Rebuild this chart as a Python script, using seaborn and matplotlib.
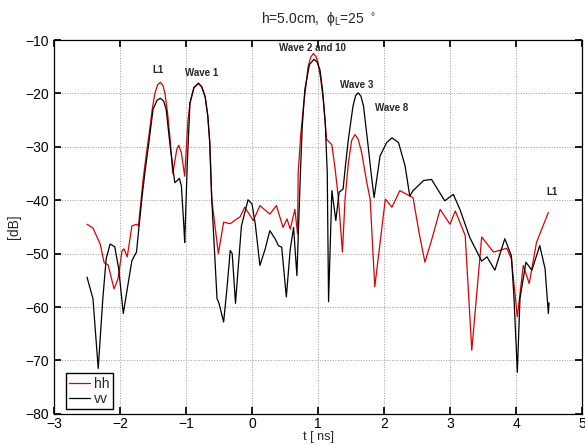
import seaborn as sns
import matplotlib.pyplot as plt
import pandas as pd

# values
hh_t = [-2.50, -2.41, -2.30, -2.24, -2.18, -2.09, -2.03, -1.97, -1.94, -1.89, -1.82, -1.75, -1.72,
        -1.65, -1.60, -1.55, -1.51, -1.47, -1.43, -1.39, -1.35, -1.32, -1.28, -1.24, -1.20, -1.14, -1.11,
        -1.07, -1.02, -0.99, -0.97, -0.94, -0.88, -0.81, -0.76, -0.71, -0.67, -0.64, -0.61, -0.51, -0.43,
        -0.33, -0.23, -0.18, -0.11, 0.02, 0.12, 0.27, 0.37, 0.47, 0.53, 0.58, 0.65, 0.69, 0.70, 0.74,
        0.78, 0.85, 0.89, 0.93, 0.97, 1.00, 1.04, 1.08, 1.13, 1.21, 1.26, 1.31, 1.37, 1.41, 1.46, 1.51,
        1.56, 1.61, 1.66, 1.74, 1.79, 1.86, 2.02, 2.12, 2.24, 2.39, 2.44, 2.53, 2.62, 2.72, 2.85, 3.00,
        3.08, 3.23, 3.33, 3.48, 3.66, 3.86, 3.93, 4.02, 4.11, 4.20, 4.31, 4.49]
hh_db = [-44.5, -45.2, -48.2, -51.7, -52.1, -56.6, -54.7, -49.5, -49.1, -50.6, -44.8, -44.5, -44.8,
         -36.1, -31.3, -26.8, -22.8, -19.9, -18.4, -17.9, -18.5, -19.9, -23.6, -28.6, -35.0, -30.5, -29.7,
         -31.1, -35.5, -29.2, -25.0, -21.8, -18.9, -18.1, -18.8, -20.6, -24.2, -29.2, -39.8, -50.0, -44.1,
         -44.4, -43.5, -43.1, -41.3, -43.8, -41.0, -42.6, -41.0, -45.1, -43.5, -45.4, -41.7, -46.3, -34.8, -27.5,
         -22.4, -15.0, -13.2, -12.5, -13.1, -14.3, -17.2, -21.2, -28.6, -29.6, -34.2, -39.8, -49.7, -39.8, -33.0, -28.8,
         -27.7, -28.6, -31.0, -36.7, -39.8, -56.2, -39.8, -41.3, -38.2, -39.2, -39.5, -46.0, -51.6, -47.5, -41.7, -44.5,
         -42.0, -46.6, -68.1, -46.9, -49.7, -49.0, -51.0, -61.8, -52.2, -55.6, -47.9, -42.3]

vv_t = [-2.50, -2.41, -2.33, -2.26, -2.21, -2.15, -2.08, -2.02, -1.95, -1.89, -1.82, -1.75, -1.67,
        -1.62, -1.57, -1.50, -1.44, -1.39, -1.34, -1.30, -1.24, -1.17, -1.14, -1.10, -1.07, -1.03, -1.02,
        -0.98, -0.94, -0.88, -0.81, -0.76, -0.71, -0.67, -0.64, -0.61, -0.53, -0.50, -0.43, -0.38, -0.33,
        -0.30, -0.25, -0.21, -0.16, -0.06, 0.00, 0.05, 0.12, 0.20, 0.27, 0.35, 0.40, 0.45, 0.52,
        0.58, 0.63, 0.68, 0.73, 0.76, 0.80, 0.87, 0.94, 0.99, 1.03, 1.07, 1.11, 1.14, 1.16, 1.21, 1.27, 1.32,
        1.38, 1.42, 1.46, 1.53, 1.57, 1.61, 1.65, 1.69, 1.72, 1.76, 1.81, 1.85, 1.94, 2.04, 2.12, 2.22, 2.32,
        2.39, 2.44, 2.50, 2.60, 2.72, 2.84, 2.92, 3.05, 3.15, 3.30, 3.48, 3.56, 3.68, 3.83, 3.93,
        3.97, 4.02, 4.06, 4.15, 4.24, 4.36, 4.44, 4.49, 4.50]
vv_db = [-54.4, -58.4, -71.5, -58.4, -51.0, -48.2, -48.7, -52.8, -61.2, -56.6, -51.3, -49.7, -39.8,
         -34.5, -29.9, -23.0, -21.3, -20.9, -21.4, -23.0, -29.9, -36.7, -36.4, -35.9, -37.3, -45.4, -47.9,
         -33.0, -21.8, -18.9, -18.1, -18.8, -20.6, -24.2, -29.2, -39.8, -58.4, -59.3, -62.8, -56.6, -49.4,
         -50.0, -59.3, -52.8, -44.8, -39.9, -40.7, -44.5, -52.2, -49.1, -45.7, -47.2, -48.5, -48.8, -58.1,
         -49.1, -45.1, -54.1, -36.1, -26.5, -19.3, -14.6, -13.6, -14.2, -15.6, -19.5, -25.5, -34.8, -59.0, -38.2, -43.8, -38.5,
         -37.9, -33.0, -28.6, -22.4, -20.4, -19.9, -20.5, -22.4, -25.6, -29.9, -35.5, -39.5, -31.7, -29.2, -28.3, -29.2, -33.6,
         -39.2, -38.2, -37.5, -36.3, -36.1, -38.5, -40.1, -38.9, -41.7, -47.0, -51.4, -50.6, -53.1, -47.2, -50.4,
         -58.4, -72.2, -58.4, -51.6, -53.1, -48.5, -52.8, -61.2, -59.2]

labels = ["L1", "Wave 1", "Wave 2 and 10", "Wave 3", "Wave 8", "L1"]
label_t = [-1.42, -0.77, 0.92, 1.59, 2.12, 4.55]
label_db = [-15.6, -16.1, -11.5, -18.4, -22.7, -38.5]

df = pd.concat([
    pd.DataFrame({"t": hh_t, "dB": hh_db, "pol": "hh"}),
    pd.DataFrame({"t": vv_t, "dB": vv_db, "pol": "vv"}),
])

sns.set_theme(style="ticks")
plt.rcParams['font.family'] = ['Liberation Sans', 'DejaVu Sans']

fig = plt.figure(figsize=(5.85, 4.45), dpi=100)
ax = fig.add_axes([0.0923, 0.07, 0.9026, 0.840])

sns.lineplot(data=df, x="t", y="dB", hue="pol", palette={"hh": "#dd0000", "vv": "black"},
             sort=False, estimator=None, linewidth=0.9, ax=ax)

for txt, x, y in zip(labels, label_t, label_db):
    ax.text(x, y, txt, fontsize=7, fontweight="bold", ha="center", va="center")

ax.set_xlim(-3, 5)
ax.set_ylim(-80, -10)
ax.set_xticks(range(-3, 6))
ax.set_yticks(range(-80, -9, 10))
ax.grid(True, linestyle=":", color="#999999", linewidth=0.7)
ax.tick_params(direction="in", top=True, right=True, length=5, labelsize=10, colors="black")
ax.tick_params(axis="x", pad=2)
for s in ax.spines.values():
    s.set_linewidth(0.9)
    s.set_color("black")

ax.set_title(r"h=5.0cm,  $\mathregular{\phi_L}$=25 $^\circ$", fontsize=10, pad=12)
ax.set_xlabel("t [ ns]", fontsize=9, labelpad=0)
ax.set_ylabel("[dB]", fontsize=10, labelpad=3)

h, l = ax.get_legend_handles_labels()
leg = ax.legend(h, l, loc="lower left", bbox_to_anchor=(0.022, 0.012), borderaxespad=0,
                fancybox=False, framealpha=1, edgecolor="black", fontsize=10,
                handlelength=1.5, handletextpad=0.3, borderpad=0.25, labelspacing=0.1)
leg.get_frame().set_linewidth(1.0)

fig.savefig("out.png", dpi=100)
